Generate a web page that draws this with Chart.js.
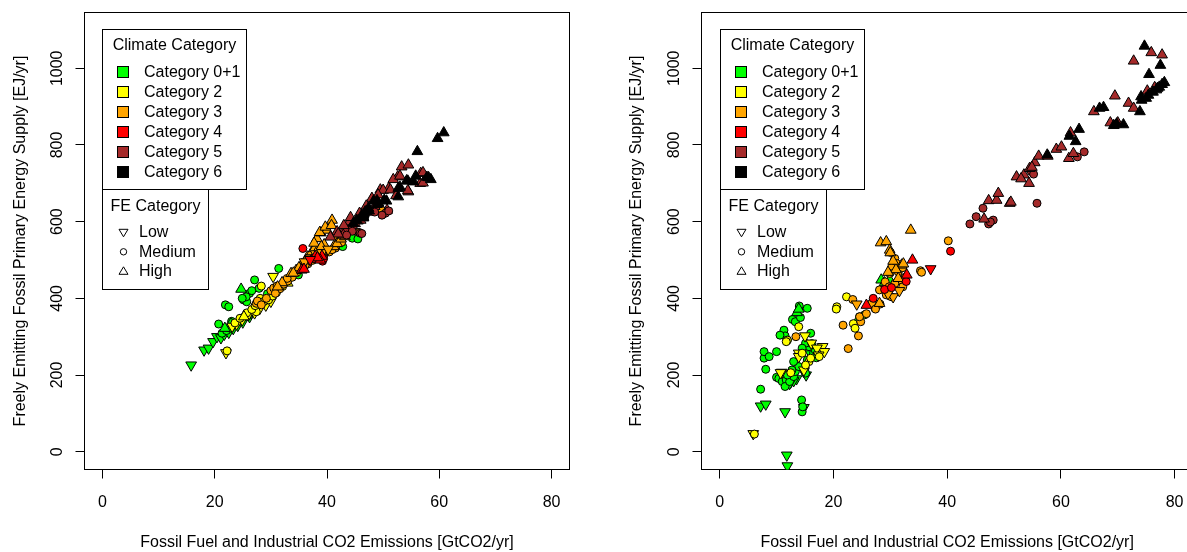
<!DOCTYPE html>
<html>
<head>
<meta charset="utf-8">
<script src="https://cdn.jsdelivr.net/npm/chart.js@4.4.1/dist/chart.umd.min.js"></script>
<style>
html,body{margin:0;padding:0;background:#fff;}
body{width:1187px;height:552px;overflow:hidden;position:relative;font-family:"Liberation Sans",Arial,Helvetica,sans-serif;color:#000;}
.panel{position:absolute;top:0;width:600px;height:552px;}
#p1{left:0;}
#p2{left:600px;}
.lg{position:absolute;box-sizing:border-box;border:1px solid #000;background:#fff;}
.tx{position:absolute;font-size:16px;line-height:18px;height:18px;white-space:nowrap;}
#sym{position:absolute;left:0;top:0;width:1187px;height:552px;pointer-events:none;}
</style>
</head>
<body>
<div class="panel" id="p1"><canvas id="c1" width="600" height="552"></canvas></div>
<div class="panel" id="p2"><canvas id="c2" width="600" height="552"></canvas></div>
<script>
// ---------------- DATA ----------------
const X_TICKS = [0, 20, 40, 60, 80];
const Y_TICKS = [0, 200, 400, 600, 800, 1000];
const X_TITLE = 'Fossil Fuel and Industrial CO2 Emissions [GtCO2/yr]';
const Y_TITLE = 'Freely Emitting Fossil Primary Energy Supply [EJ/yr]';
const CATEGORY_NAMES = ['Category 0+1', 'Category 2', 'Category 3', 'Category 4', 'Category 5', 'Category 6'];
const CATEGORY_COLORS = ['#00FF00', '#FFFF00', '#FFA500', '#FF0000', '#A52A2A', '#000000'];
const FE_NAMES = ['Low', 'Medium', 'High'];
const CLIMATE_TITLE = 'Climate Category';
const FE_TITLE = 'FE Category';

// [x, y, FE category]  L = Low, M = Medium, H = High
const L_GREEN = [
 [15.8,226,'L'],[18.1,265,'L'],[18.9,270,'L'],[19.7,287,'L'],[20.4,300,'L'],[21.1,297,'L'],[21.7,306,'L'],[22.5,311,'L'],[23.3,321,'L'],[24.1,329,'L'],[25.0,338,'L'],[26.2,352,'L'],[30.6,411,'L'],
 [20.7,333,'M'],[21.9,383,'M'],[22.5,378,'M'],[21.3,309,'M'],[22.1,316,'M'],[22.8,322,'M'],[23.6,331,'M'],[24.4,340,'M'],[25.1,396,'M'],[25.7,391,'M'],[26.2,413,'M'],[27.1,448,'M'],[27.9,426,'M'],[26.6,420,'M'],[25.6,404,'M'],[24.9,400,'M'],[31.4,478,'M'],[34.9,461,'M'],[42.8,535,'M'],[44.5,557,'M'],[45.5,555,'M'],[49.9,619,'M'],[29.4,412,'M'],[25.3,352,'M'],[26.5,362,'M'],[23.0,340,'M'],
 [24.7,424,'H'],[22.9,334,'H'],[21.8,322,'H'],[25.6,355,'H']
];
const L_YELLOW = [
 [22.0,258,'L'],[30.4,457,'L'],[23.9,333,'L'],[24.9,344,'L'],[26.0,357,'L'],[27.1,362,'L'],[28.0,373,'L'],[29.1,382,'L'],[23.1,327,'L'],[30.0,392,'L'],
 [22.2,263,'M'],[23.6,336,'M'],[25.7,362,'M'],[27.4,365,'M'],[28.1,400,'M'],[28.3,432,'M'],[26.6,371,'M'],[27.2,381,'M'],[28.8,392,'M'],[29.6,396,'M'],[24.5,348,'M'],[30.3,406,'M'],[32.1,431,'M'],[31.0,415,'M'],
 [25.2,352,'H'],[33.0,440,'H']
];
const L_ORANGE = [
 [27.4,387,'M'],[27.6,393,'M'],[28.3,383,'M'],[30.0,420,'M'],[30.5,427,'M'],[31.1,432,'M'],[31.6,425,'M'],[32.3,437,'M'],[33.0,445,'M'],[33.8,455,'M'],[34.6,467,'M'],[35.4,479,'M'],[36.6,490,'M'],[37.4,499,'M'],[38.6,511,'M'],[39.5,514,'M'],[40.4,521,'M'],[41.5,531,'M'],[42.6,546,'M'],[43.8,574,'M'],[45.7,572,'M'],[49.05,632,'M'],[49.8,629,'M'],[29.2,400,'M'],[30.8,413,'M'],[36.1,486,'M'],[40.9,527,'M'],[32.9,452,'M'],[41.9,560,'M'],
 [33.6,465,'H'],[34.5,473,'H'],[35.5,488,'H'],[36.5,508,'H'],[37.3,521,'H'],[38.2,556,'H'],[38.9,571,'H'],[40.0,578,'H'],[40.9,604,'H'],[41.2,535,'H'],[41.8,543,'H'],[39.5,540,'H'],[37.8,530,'H'],[36.2,498,'H'],[35.0,480,'H'],[32.0,441,'H'],[31.2,430,'H'],[42.5,555,'H'],[43.2,561,'H'],[39.0,523,'H'],[34.0,466,'H'],[38.7,572,'H'],[39.7,586,'H'],[37.7,544,'H'],[39.0,535,'H'],[38.0,517,'H'],[40.8,590,'H'],
 [36.0,495,'L'],[37.1,505,'L'],[38.0,516,'L'],[39.1,519,'L'],[40.2,528,'L']
];
const L_RED = [
 [35.7,530,'M'],[39.2,497,'M'],[39.4,504,'M'],[37.5,503,'M'],
 [35.5,474,'H'],[35.9,476,'H'],[37.9,509,'H'],[39.1,510,'H'],[38.8,500,'H'],[38.3,506,'H'],
 [37.0,501,'L']
];
const L_BROWN = [
 [53.3,743,'H'],[54.5,748,'H'],[52.6,717,'H'],[56.7,726,'H'],[56.6,700,'H'],[54.5,678,'H'],[51.8,710,'H'],[51.0,687,'H'],[49.5,683,'H'],[48.0,661,'H'],[50.7,630,'H'],[43.2,582,'H'],[41.8,574,'H'],[42.9,565,'H'],[44.5,590,'H'],[45.5,602,'H'],[46.5,612,'H'],[47.5,625,'H'],[48.5,640,'H'],[47.0,641,'H'],[44.0,600,'H'],[43.0,590,'H'],[57.1,728,'H'],[53.0,719,'H'],[57.1,701,'H'],[54.4,681,'H'],[50.0,682,'H'],[51.3,683,'H'],[49.1,670,'H'],[46.0,604,'H'],[45.0,595,'H'],[42.0,568,'H'],[40.6,560,'H'],[52.3,668,'H'],[44.2,611,'H'],[45.8,622,'H'],
 [50.4,622,'M'],[49.8,617,'M'],[51.0,628,'M'],[45.9,570,'M'],[46.2,569,'M'],[44.5,575,'M'],[43.5,565,'M'],[48.5,625,'M']
];
const L_BLACK = [
 [60.8,832,'H'],[59.7,817,'H'],[56.1,783,'H'],[55.4,704,'H'],[54.2,707,'H'],[58.1,715,'H'],[58.5,710,'H'],[57.8,716,'H'],[52.7,687,'H'],[52.7,665,'H'],[53.0,690,'H'],[50.2,656,'H'],[49.2,648,'H'],[48.3,654,'H'],[47.4,635,'H'],[46.8,626,'H'],[46.2,617,'H'],[45.3,604,'H'],[44.7,596,'H'],[55.8,719,'H'],[54.4,706,'H'],[50.6,654,'H'],[48.9,655,'H'],[48.9,645,'H'],[47.5,628,'H'],[46.5,610,'H'],
 [46.8,615,'M']
];

const R_GREEN = [
 [11.8,-9,'L'],[11.9,-37,'L'],[7.2,119,'L'],[8.1,124,'L'],[11.5,104,'L'],[14.8,115,'L'],[14.8,209,'L'],[12.5,182,'L'],[13.5,190,'L'],[15.2,200,'L'],[16.0,255,'L'],[13.0,185,'L'],[12.3,178,'L'],
 [7.2,163,'M'],[14.4,135,'M'],[14.5,104,'M'],[14.6,117,'M'],[8.1,215,'M'],[7.8,244,'M'],[7.8,261,'M'],[8.7,248,'M'],[10.0,261,'M'],[10.0,194,'M'],[11.3,317,'M'],[11.5,302,'M'],[11.9,291,'M'],[10.6,304,'M'],[12.8,345,'M'],[13.3,339,'M'],[14.0,380,'M'],[15.4,374,'M'],[16.0,309,'M'],[10.4,191,'M'],[11.0,183,'M'],[11.7,187,'M'],[11.5,170,'M'],[12.3,183,'M'],[13.0,196,'M'],[13.3,209,'M'],[13.9,222,'M'],[15.1,205,'M'],[15.4,239,'M'],[16.5,257,'M'],[16.8,265,'M'],[15.7,274,'M'],[15.1,283,'M'],[14.5,270,'M'],[13.0,235,'M'],[12.7,213,'M'],[11.9,200,'M'],[24.6,352,'M'],[25.5,357,'M'],[14.2,350,'M'],[16.2,282,'M'],[17.0,245,'M'],
 [13.6,363,'H'],[13.9,372,'H'],[28.4,448,'H'],[29.0,441,'H'],[29.9,448,'H'],[24.3,343,'H']
];
const R_YELLOW = [
 [5.9,47,'L'],[10.9,207,'L'],[16.1,283,'L'],[13.9,257,'L'],[13.9,248,'L'],[14.8,213,'L'],[10.7,206,'L'],[18.1,274,'L'],[18.4,261,'L'],[17.1,270,'L'],[17.4,252,'L'],[15.0,302,'L'],
 [6.1,46,'M'],[20.6,378,'M'],[20.5,372,'M'],[22.3,404,'M'],[23.5,334,'M'],[23.8,322,'M'],[13.9,326,'M'],[11.9,291,'M'],[12.5,206,'M'],[15.7,235,'M'],[15.1,226,'M'],[16.0,244,'M'],[17.5,248,'M'],[14.5,257,'M'],[11.7,287,'M']
];
const R_ORANGE = [
 [23.4,397,'M'],[21.7,330,'M'],[24.4,302,'M'],[24.8,339,'M'],[24.6,352,'M'],[22.6,269,'M'],[27.3,374,'M'],[26.7,387,'M'],[30.8,504,'M'],[31.1,491,'M'],[30.2,480,'M'],[29.9,465,'M'],[31.4,469,'M'],[32.2,480,'M'],[31.6,448,'M'],[32.2,430,'M'],[30.8,439,'M'],[29.1,443,'M'],[28.1,422,'M'],[29.3,409,'M'],[30.2,404,'M'],[40.2,550,'M'],[35.3,472,'M'],[35.5,468,'M'],[13.4,300,'M'],[28.2,385,'M'],[27.4,372,'M'],[25.8,360,'M'],[30.0,520,'M'],[29.8,430,'M'],[32.6,455,'M'],
 [28.3,545,'H'],[29.3,548,'H'],[29.9,526,'H'],[30.0,519,'H'],[33.6,578,'H'],[32.0,487,'H'],[31.0,475,'H'],[28.1,387,'H'],[29.6,468,'H'],[31.4,452,'H'],[32.3,490,'H'],[30.5,497,'H'],
 [24.1,385,'L'],[30.5,404,'L'],[31.6,420,'L'],[29.6,412,'L']
];
const R_RED = [
 [40.6,523,'M'],[27.0,400,'M'],[29.0,423,'M'],[30.2,428,'M'],[32.8,444,'M'],
 [25.8,382,'H'],[33.9,500,'H'],[32.9,461,'H'],
 [37.1,477,'L']
];
const R_BROWN = [
 [44.0,594,'M'],[45.1,613,'M'],[46.3,635,'M'],[47.3,594,'M'],[48.1,604,'M'],[47.6,599,'M'],[55.8,648,'M'],[64.1,782,'M'],[62.9,769,'M'],[54.8,731,'M'],[55.2,724,'M'],
 [46.5,607,'H'],[47.3,655,'H'],[48.7,656,'H'],[49.0,674,'H'],[51.0,648,'H'],[51.2,651,'H'],[52.2,717,'H'],[53.5,722,'H'],[54.5,739,'H'],[54.4,700,'H'],[55.4,754,'H'],[56.1,771,'H'],[57.7,771,'H'],[59.2,789,'H'],[60.1,795,'H'],[61.4,765,'H'],[62.2,778,'H'],[61.7,832,'H'],[65.8,887,'H'],[69.5,928,'H'],[68.7,858,'H'],[70.0,858,'H'],[71.9,909,'H'],[72.8,896,'H'],[72.8,1019,'H'],[75.9,1041,'H'],[77.8,1035,'H'],[75.2,941,'H'],[76.5,950,'H'],[53.0,712,'H'],[54.9,742,'H']
];
const R_BLACK = [
 [57.6,774,'H'],[61.5,823,'H'],[62.6,809,'H'],[63.2,841,'H'],[66.8,896,'H'],[67.5,898,'H'],[69.3,851,'H'],[71.0,853,'H'],[73.9,887,'H'],[74.1,926,'H'],[74.7,1058,'H'],[75.5,984,'H'],[77.5,1008,'H'],[74.2,917,'H'],[75.4,930,'H'],[76.2,938,'H'],[76.8,944,'H'],[77.3,951,'H'],[77.8,958,'H'],[78.2,963,'H'],[75.0,922,'H'],[77.0,948,'H'],[69.8,855,'H']
];

const LEFT_SERIES = [L_GREEN, L_YELLOW, L_ORANGE, L_RED, L_BROWN, L_BLACK];
const RIGHT_SERIES = [R_GREEN, R_YELLOW, R_ORANGE, R_RED, R_BROWN, R_BLACK];

// ---------------- CHARTS ----------------
const FONT = {family: '"Liberation Sans", Arial, Helvetica, sans-serif', size: 16};
Chart.defaults.color = '#000';
Chart.defaults.font.family = FONT.family;

const boxPlugin = {
  id: 'rbox',
  beforeDatasetsDraw(chart) {
    const {ctx, chartArea: a} = chart;
    ctx.save();
    ctx.strokeStyle = '#000';
    ctx.lineWidth = 1;
    ctx.strokeRect(a.left, a.top, a.right - a.left, a.bottom - a.top);
    ctx.restore();
  }
};

function makeChart(id, series, g) {
  const datasets = series.map((pts, i) => ({
    label: CATEGORY_NAMES[i],
    data: pts.map(p => ({x: p[0], y: p[1]})),
    showLine: false,
    order: 5 - i,
    backgroundColor: CATEGORY_COLORS[i],
    borderColor: '#000',
    pointBackgroundColor: CATEGORY_COLORS[i],
    pointBorderColor: '#000',
    pointBorderWidth: 1,
    pointStyle: pts.map(p => p[2] === 'M' ? 'circle' : 'triangle'),
    pointRotation: pts.map(p => p[2] === 'L' ? 180 : 0),
    pointRadius: pts.map(p => p[2] === 'M' ? 4 : 6.2)
  }));
  const gridOpts = {drawOnChartArea: false, drawTicks: true, tickLength: 9, color: '#000', tickColor: '#000', lineWidth: 1, tickWidth: 1};
  return new Chart(document.getElementById(id), {
    type: 'scatter',
    data: {datasets},
    options: {
      responsive: false, animation: false, events: [], devicePixelRatio: 1,
      layout: {padding: {left: 0, top: g.top, right: g.right, bottom: 0}},
      plugins: {legend: {display: false}, tooltip: {enabled: false}},
      scales: {
        x: {
          type: 'linear', min: -3.2, max: 83.2,
          afterBuildTicks: s => { s.ticks = X_TICKS.map(v => ({value: v})); },
          afterFit: s => { s.height = g.xAxisH; },
          grid: gridOpts, border: {display: false},
          ticks: {padding: 14.6, font: FONT, color: '#000', minRotation: 0, maxRotation: 0, autoSkip: false, callback: v => String(v)},
          title: {display: true, text: X_TITLE, font: FONT, color: '#000', padding: {top: 0, bottom: 0}}
        },
        y: {
          type: 'linear', min: -46.4, max: 1145.5,
          afterBuildTicks: s => { s.ticks = Y_TICKS.map(v => ({value: v})); },
          afterFit: s => { s.width = g.yAxisW; },
          grid: gridOpts, border: {display: false},
          ticks: {padding: 0, font: FONT, color: '#000', minRotation: 90, maxRotation: 90, crossAlign: 'center', autoSkip: false, callback: v => String(v)},
          title: {display: true, text: Y_TITLE, font: FONT, color: '#000', padding: {top: g.yTitlePad, bottom: 0}}
        }
      }
    },
    plugins: [boxPlugin]
  });
}

makeChart('c1', LEFT_SERIES, {top: 12.5, right: 30.5, xAxisH: 82.5, yAxisW: 84.5, yTitlePad: 11});
makeChart('c2', RIGHT_SERIES, {top: 12.5, right: 1.7, xAxisH: 82.5, yAxisW: 101.5, yTitlePad: 27});

// ---------------- LEGENDS ----------------
const SVGNS = 'http://www.w3.org/2000/svg';
const svg = document.createElementNS(SVGNS, 'svg');
svg.setAttribute('id', 'sym');
svg.setAttribute('width', '1187'); svg.setAttribute('height', '552');

function addText(x, cy, str, center, w) {
  const d = document.createElement('div');
  d.className = 'tx';
  d.textContent = str;
  d.style.top = (cy - 9) + 'px';
  d.style.left = x + 'px';
  if (center) { d.style.width = w + 'px'; d.style.textAlign = 'center'; }
  document.body.appendChild(d);
}
function addBox(l, t, w, h) {
  const d = document.createElement('div');
  d.className = 'lg';
  d.style.left = l + 'px'; d.style.top = t + 'px'; d.style.width = w + 'px'; d.style.height = h + 'px';
  document.body.appendChild(d);
}
function svgEl(tag, attrs) {
  const e = document.createElementNS(SVGNS, tag);
  for (const k in attrs) e.setAttribute(k, attrs[k]);
  svg.appendChild(e);
}

function buildLegend(L) {
  addBox(L, 29, 145, 161);
  addBox(L, 189, 107, 101);
  addText(L, 44.7, CLIMATE_TITLE, true, 145);
  CATEGORY_NAMES.forEach((name, i) => {
    const cy = 71.5 + 20.06 * i;
    addText(L + 42, cy, name, false);
    const ry = Math.round(cy - 5.5) + 0.5;
    svgEl('rect', {x: L + 15.5, y: ry, width: 11, height: 11, fill: CATEGORY_COLORS[i], stroke: '#000', 'stroke-width': 1});
  });
  addText(L, 206, FE_TITLE, true, 107);
  const feY = [232.3, 251.8, 271.3];
  const cx = L + 21.5;
  FE_NAMES.forEach((name, i) => {
    const cy = feY[i];
    addText(L + 37, cy, name, false);
    if (i === 0) svgEl('polygon', {points: `${cx-4.5},${cy-3} ${cx+4.5},${cy-3} ${cx},${cy+4.5}`, fill: 'none', stroke: '#000', 'stroke-width': 1});
    if (i === 1) svgEl('circle', {cx: cx, cy: cy, r: 3.2, fill: 'none', stroke: '#000', 'stroke-width': 1});
    if (i === 2) svgEl('polygon', {points: `${cx-4.5},${cy+3} ${cx+4.5},${cy+3} ${cx},${cy-4.5}`, fill: 'none', stroke: '#000', 'stroke-width': 1});
  });
}
buildLegend(102);
buildLegend(720);
document.body.appendChild(svg);
</script>
</body>
</html>
